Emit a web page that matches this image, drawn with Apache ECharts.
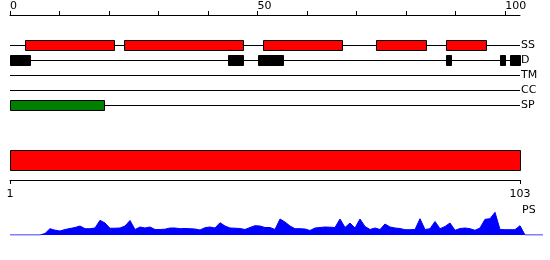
<!DOCTYPE html>
<html>
<head>
<meta charset="utf-8">
<script src="https://cdn.jsdelivr.net/npm/echarts@6/dist/echarts.min.js"></script>
<style>html,body{margin:0;padding:0;background:#fff}#c{width:550px;height:260px}</style>
</head>
<body>
<div id="c"></div>
<script>
var trackNames = ['SS', 'D', 'TM', 'CC', 'SP'];
var ssSegments = [[3, 21], [23, 47], [51, 67], [74, 84], [88, 96]];
var dSegments = [[0, 4], [44, 47], [50, 55], [88, 89], [99, 100], [101, 103]];
var tmSegments = [];
var ccSegments = [];
var spSegments = [[0, 19]];
var topTicks = [0, 10, 20, 30, 40, 50, 60, 70, 80, 90, 100];
var topLabels = [0, 50, 100];
var seqLength = 103;
var seqLabels = [1, 103];
var psValues = [0, 0, 0, 0, 0, 0, 0, 1.5, 6.3, 4.8,
  4, 5.5, 6.5, 7.5, 9, 6.3, 6.3, 7, 14.7, 12,
  6.7, 6.8, 7, 9, 14.5, 5.5, 8, 7, 8, 5.5,
  5.5, 5.8, 7, 7, 6.3, 6.5, 6.3, 6, 5, 7.3,
  8, 7, 12.3, 9, 7, 6.8, 6.5, 5.5, 7.5, 9.3,
  9, 7.5, 7.5, 5.5, 16, 13, 9, 6.3, 6.3, 6,
  4.5, 7, 7.5, 8, 7.8, 7.5, 16, 7.5, 12, 7,
  16, 8.5, 5.5, 7, 5.5, 11, 8, 7, 6.5, 5.3,
  5.3, 5.5, 16.3, 5.5, 6.3, 13.5, 6.3, 8.5, 12, 4.7,
  6.5, 7, 6.3, 4.7, 7, 15.7, 16.3, 22.7, 5.5, 5.3,
  5.3, 5.3, 9.3];
var psTail = [[104, 0], [107.6, 0]];

var FONT = 'DejaVu Sans';

function segData(segs, idx) {
  return segs.map(function (s) { return [s[0], s[1], idx]; });
}
function trackRender(color, h) {
  return function (params, api) {
    var s = api.coord([api.value(0), api.value(2)]);
    var e = api.coord([api.value(1), api.value(2)]);
    return {
      type: 'rect',
      shape: { x: Math.round(s[0]) + 0.5, y: Math.round(s[1] - h / 2) + 0.5, width: Math.round(e[0] - s[0]), height: h },
      style: { fill: color, stroke: '#000', lineWidth: 1 }
    };
  };
}
function trackSeries(segs, idx, color) {
  return {
    type: 'custom', xAxisIndex: 0, yAxisIndex: 0,
    renderItem: trackRender(color, 10),
    encode: { x: [0, 1], y: 2 },
    data: segData(segs, idx),
    silent: true
  };
}

var psData = psValues.map(function (v, i) { return [i + 1, v]; }).concat(psTail);

var chart = echarts.init(document.getElementById('c'), null, { renderer: 'canvas' });
chart.setOption({
  animation: false,
  backgroundColor: '#fff',
  grid: [
    { left: 10, top: 45, width: 510, height: 60 },
    { left: 10, top: 150, width: 510, height: 30 },
    { left: 10, top: 205, width: 533, height: 30 }
  ],
  xAxis: [
    {
      gridIndex: 0, type: 'value', min: 0, max: seqLength, position: 'top', offset: 30,
      splitLine: { show: false },
      axisLine: { show: true, lineStyle: { color: '#000', width: 1 } },
      axisTick: { show: true, length: 4, customValues: topTicks, lineStyle: { color: '#000' } },
      axisLabel: { customValues: topLabels, align: 'left', margin: 3, color: '#000', fontSize: 11, fontFamily: FONT }
    },
    {
      gridIndex: 1, type: 'value', min: 1, max: seqLength,
      splitLine: { show: false },
      axisLine: { show: true, lineStyle: { color: '#000', width: 1 } },
      axisTick: { show: true, length: 4, customValues: seqLabels, lineStyle: { color: '#000' } },
      axisLabel: { customValues: seqLabels, margin: 9, color: '#000', fontSize: 11, fontFamily: FONT }
    },
    { gridIndex: 2, type: 'value', min: 1, max: 107.6, show: false }
  ],
  yAxis: [
    {
      gridIndex: 0, type: 'category', data: trackNames, inverse: true, boundaryGap: false,
      position: 'right',
      axisLine: { show: false }, axisTick: { show: false },
      axisLabel: { margin: 1, color: '#000', fontSize: 11, fontFamily: FONT },
      splitLine: { show: true, lineStyle: { color: '#000', width: 1 } }
    },
    { gridIndex: 1, type: 'value', min: 0, max: 3, show: false },
    { gridIndex: 2, type: 'value', min: 0, max: 30, show: false }
  ],
  graphic: [
    { type: 'text', left: 522, top: 205, style: { text: 'PS', fill: '#000', font: '11px "DejaVu Sans"' } }
  ],
  series: [
    trackSeries(ssSegments, 0, '#ff0000'),
    trackSeries(dSegments, 1, '#000000'),
    trackSeries(tmSegments, 2, '#000000'),
    trackSeries(ccSegments, 3, '#000000'),
    trackSeries(spSegments, 4, '#008000'),
    {
      type: 'custom', xAxisIndex: 1, yAxisIndex: 1,
      encode: { x: [0, 1] },
      data: [[1, seqLength]],
      renderItem: function (params, api) {
        var s = api.coord([api.value(0), 3]);
        var e = api.coord([api.value(1), 1]);
        return {
          type: 'rect',
          shape: { x: Math.round(s[0]) + 0.5, y: Math.round(s[1]) + 0.5, width: Math.round(e[0] - s[0]), height: Math.round(e[1] - s[1]) },
          style: { fill: '#ff0000', stroke: '#000', lineWidth: 1 }
        };
      },
      silent: true
    },
    {
      type: 'line', xAxisIndex: 2, yAxisIndex: 2,
      data: psData, showSymbol: false, symbol: 'none',
      lineStyle: { color: '#0000ff', width: 1 },
      areaStyle: { color: '#0000ff', opacity: 1 },
      silent: true
    }
  ]
});
</script>
</body>
</html>
